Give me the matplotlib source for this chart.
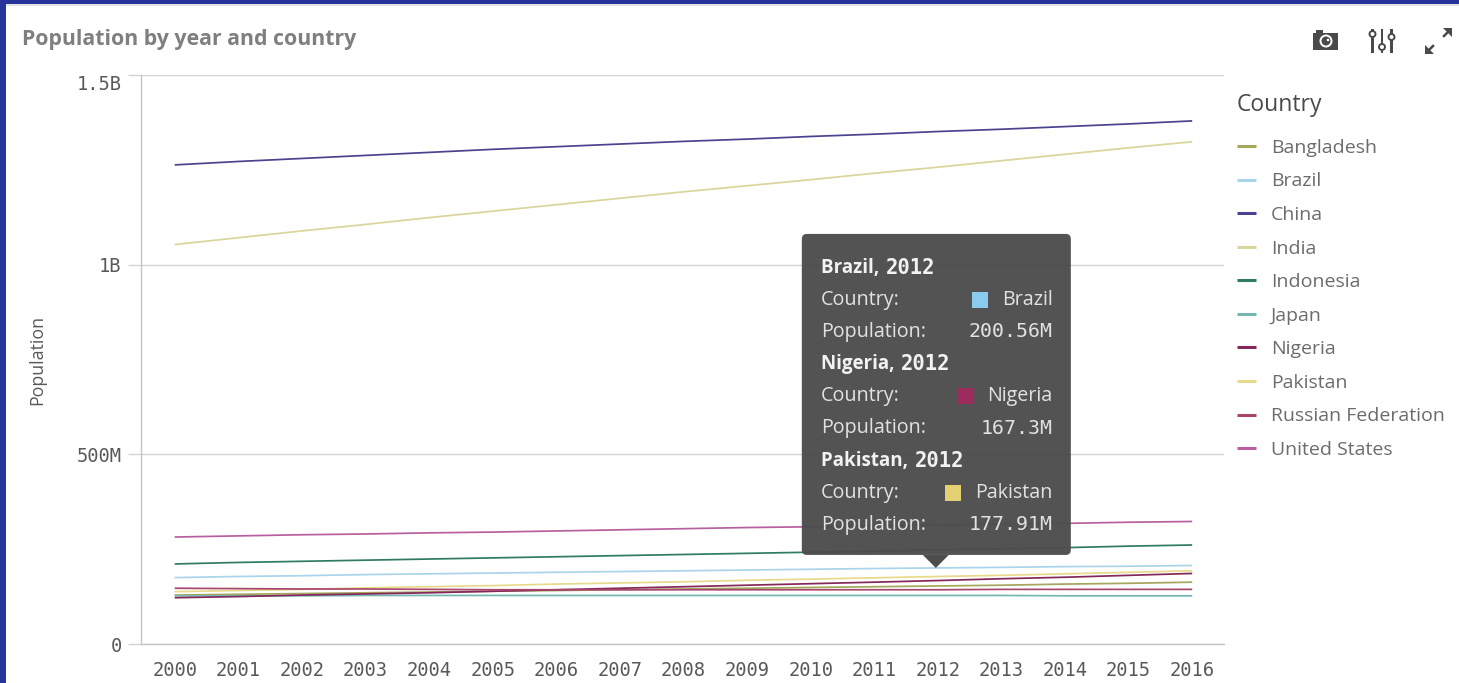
import matplotlib
matplotlib.use("Agg")
import matplotlib.pyplot as plt
from matplotlib.patches import Rectangle, FancyBboxPatch, Polygon, Circle
from matplotlib.lines import Line2D
from matplotlib.ticker import FuncFormatter
from matplotlib.transforms import IdentityTransform

years = list(range(2000, 2017))
bangladesh = [129, 131, 133, 135, 137, 139, 141, 143, 145, 147, 149, 151, 153, 155, 158, 160, 163]
brazil = [175, 178, 180, 183, 185, 187, 189, 191, 193, 195, 197, 199, 200.56, 202, 204, 205, 207]
china = [1263, 1272, 1280, 1288, 1296, 1304, 1311, 1318, 1325, 1331, 1338, 1344, 1351, 1357, 1364, 1371, 1379]
india = [1053, 1071, 1089, 1106, 1124, 1141, 1158, 1175, 1192, 1208, 1224, 1241, 1257, 1274, 1291, 1308, 1324]
indonesia = [211, 215, 218, 221, 224, 227, 230, 233, 236, 239, 242, 245, 248, 251, 254, 258, 261]
japan = [127, 127, 127, 128, 128, 128, 128, 128, 128, 128, 128, 128, 128, 128, 127, 127, 127]
nigeria = [122, 125, 129, 132, 135, 139, 143, 147, 151, 155, 159, 163, 167.3, 172, 176, 181, 186]
pakistan = [138, 141, 144, 148, 151, 154, 158, 161, 164, 168, 171, 174.5, 177.91, 181, 185, 189, 193]
russia = [147, 146, 145, 145, 144, 143, 143, 143, 143, 143, 143, 143, 143, 144, 144, 144, 144]
united_states = [282, 285, 288, 290, 293, 295, 298, 301, 304, 307, 309, 311, 314, 316, 318, 321, 323]

countries = ["Bangladesh", "Brazil", "China", "India", "Indonesia", "Japan", "Nigeria",
             "Pakistan", "Russian Federation", "United States"]
series = [bangladesh, brazil, china, india, indonesia, japan, nigeria, pakistan, russia, united_states]
colors = ["#a3a65c", "#aad4ea", "#4a438f", "#d8d69a", "#2f7d5e", "#74b8b2", "#84275a",
          "#e8da8c", "#a9466e", "#b8609f"]
y_ticks = [0, 500e6, 1000e6, 1500e6]
y_labels = {0: "0", 500e6: "500M", 1000e6: "1B", 1500e6: "1.5B"}

W, H = 1459, 683
SANS = "Open Sans"
MONO = "DejaVu Sans Mono"
fig = plt.figure(figsize=(W / 100, H / 100), dpi=100, facecolor="white")
ID = IdentityTransform()

def fx(x): return x / W
def fy(y): return 1 - y / H
def ftext(x, y, s, **kw):
    kw.setdefault("va", "center")
    return fig.text(fx(x), fy(y), s, **kw)
def frect(x, y, w, h, color, **kw):
    fig.add_artist(Rectangle((x, H - y - h), w, h, transform=ID, facecolor=color, edgecolor="none", **kw))
def fpoly(points, color, **kw):
    fig.add_artist(Polygon([(x, H - y) for x, y in points], transform=ID, facecolor=color, edgecolor="none", **kw))
def fcircle(x, y, r, face, edge="none", lw=0):
    fig.add_artist(Circle((x, H - y), r, transform=ID, facecolor=face, edgecolor=edge, linewidth=lw))
def fline(x0, y0, x1, y1, color, lw):
    fig.add_artist(Line2D([x0, x1], [H - y0, H - y1], transform=ID, color=color, lw=lw))

# page frame
frect(0, 0, W, 4, "#27359a")
frect(0, 0, 6, H, "#27359a")
frect(6, 4, W - 6, 2, "#e4e4e4")

ax = fig.add_axes([fx(141), fy(644), (1224 - 141) / W, (644 - 75) / H])
for values, c, name in zip(series, colors, countries):
    ax.plot(years, [v * 1e6 for v in values], color=c, lw=1.25, label=name, solid_capstyle="butt")
ax.set_xlim(1999.47, 2016.5)
ax.set_ylim(0, 1500e6)
ax.set_xticks(years)
ax.set_yticks(y_ticks)
ax.yaxis.set_major_formatter(FuncFormatter(lambda v, p: y_labels.get(v, "")))
ax.grid(axis="y", color="#d2d2d2", lw=1.0)
ax.set_axisbelow(True)
for s in ("top", "right"):
    ax.spines[s].set_visible(False)
for s in ("left", "bottom"):
    ax.spines[s].set_color("#c4c4c4")
    ax.spines[s].set_linewidth(1.0)
ax.tick_params(axis="x", length=0, pad=12.5, labelsize=13.5, labelcolor="#595959")
ax.tick_params(axis="y", length=9.4, width=1.0, color="#d2d2d2", pad=4.5, labelsize=13.5, labelcolor="#595959")
for t in ax.get_xticklabels() + ax.get_yticklabels():
    t.set_family(MONO)
ax.get_yticklabels()[-1].set_va("top")
ax.set_ylabel("Population", fontsize=12.8, color="#595959", family=SANS)
ax.yaxis.set_label_coords((46 - 141) / (1224 - 141), 0.5)

ftext(22, 40, "Population by year and country", fontsize=15.3, fontweight="bold", color="#7f7f7f", family=SANS)

leg = ax.legend(loc="upper left", bbox_to_anchor=(fx(1227), fy(83)), bbox_transform=fig.transFigure,
                frameon=False, title="Country", alignment="left", handlelength=1.0, handletextpad=0.76,
                labelspacing=0.8, fontsize=14, title_fontsize=16.5, borderpad=0.5, borderaxespad=0)
leg.get_title().set_color("#4a4a4a")
leg.get_title().set_family(SANS)
leg._legend_box.sep = 16
for t in leg.get_texts():
    t.set_color("#6c6c6c")
    t.set_family(SANS)
for h in leg.get_lines():
    h.set_linewidth(2.2)

# tooltip, anchored on the Brazil 2012 point
fig.canvas.draw()
tip_x, tip_y = ax.transData.transform((2012, brazil[12] * 1e6))
tip_y = H - tip_y
tip_x -= 2
left, right = tip_x - 134, tip_x + 135
top, bottom = tip_y - 334, tip_y - 13
tooltip_c = "#4d4d4d"
fig.add_artist(FancyBboxPatch((left, H - bottom), right - left, bottom - top,
                              boxstyle="round,pad=0,rounding_size=5", transform=ID,
                              facecolor=tooltip_c, edgecolor="none", alpha=0.97, zorder=5))
fpoly([(tip_x - 13, bottom), (tip_x + 13, bottom), (tip_x, tip_y)], tooltip_c, zorder=5)

entries = [("Brazil", "2012", "#8ccbf0", "200.56M"),
           ("Nigeria", "2012", "#9c2b5e", "167.3M"),
           ("Pakistan", "2012", "#e4cf73", "177.91M")]
row = top + 34
tl = left + 19
tr = right - 18
light = "#e2e2e2"
renderer = fig.canvas.get_renderer()
for name, yr, sw, lab in entries:
    t1 = ftext(tl, row, f"{name}, ", fontsize=13.5, fontweight="bold", color="#f2f2f2", family=SANS, zorder=6)
    w = t1.get_window_extent(renderer).width
    ftext(tl + w + 2, row, yr, fontsize=14.8, fontweight="bold", color="#f2f2f2", family=MONO, zorder=6)
    ftext(tl, row + 32, "Country:", fontsize=14.2, color=light, family=SANS, zorder=6)
    t2 = ftext(tr, row + 32, name, fontsize=14.2, color=light, family=SANS, ha="right", zorder=6)
    w2 = t2.get_window_extent(renderer).width
    frect(tr - w2 - 30, row + 32 - 8, 16, 16, sw, zorder=6)
    ftext(tl, row + 64, "Population:", fontsize=14.2, color=light, family=SANS, zorder=6)
    ftext(tr, row + 64, lab, fontsize=14.3, color=light, family=MONO, ha="right", zorder=6)
    row += 96.5

# toolbar icons
ic = "#4a4a4a"
frect(1313, 33, 25, 17, ic)
frect(1316, 30, 7, 4, ic)
fcircle(1326, 41, 6.5, "white")
fcircle(1326, 41, 4.5, ic)
fcircle(1328, 40, 1.3, "white")
for x, ky in [(1372.5, 34), (1382, 47), (1391.5, 37)]:
    frect(x - 1.2, 29, 2.4, 24, ic)
    fcircle(x, ky, 3, "white", ic, 1.4)
fpoly([(1443, 28), (1452, 28), (1452, 37)], ic)
fline(1444, 36, 1448, 32, ic, 1.8)
fpoly([(1425, 45), (1425, 54), (1434, 54)], ic)
fline(1433, 46, 1429, 50, ic, 1.8)

fig.savefig("out.png", dpi=100, facecolor="white")
